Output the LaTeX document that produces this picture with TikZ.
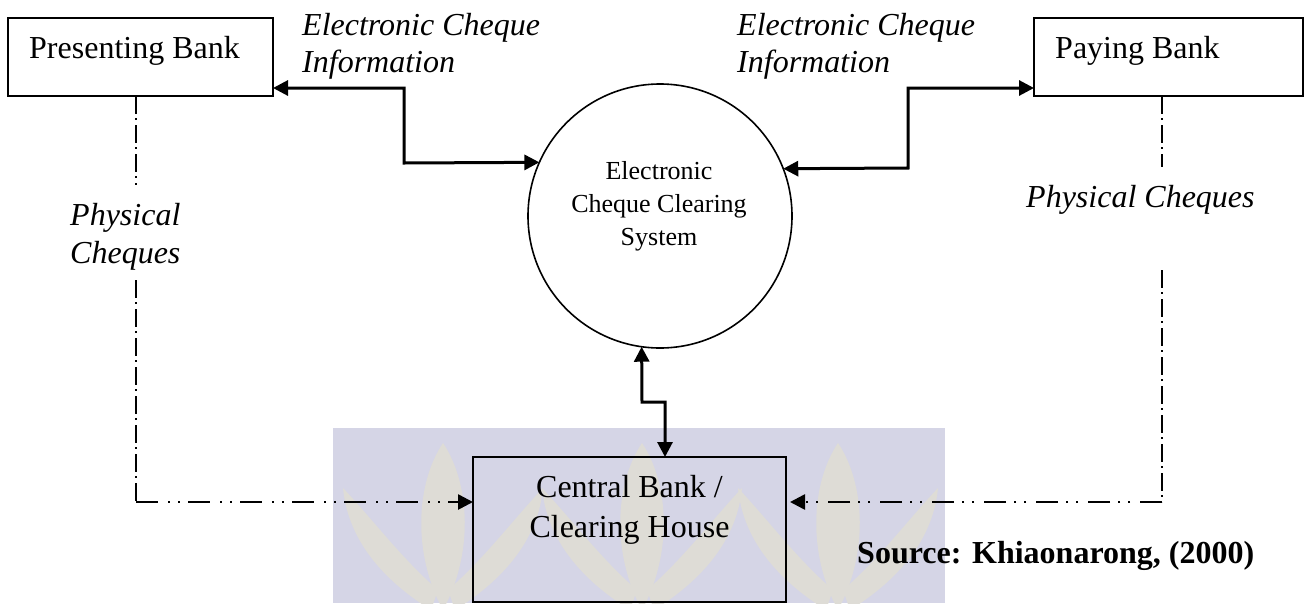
\documentclass[tikz,border=0pt]{standalone}
\usepackage{fontspec}
\setmainfont{Liberation Serif}
\usetikzlibrary{arrows.meta,calc}
\definecolor{band}{HTML}{D5D5E6}
\definecolor{leaf}{HTML}{DEDCD6}
\begin{document}
\begin{tikzpicture}[x=1pt,y=-1pt,
  box/.style={draw, line width=2pt, inner sep=0pt, outer sep=0pt},
  lbl/.style={font=\fontsize{32}{37}\selectfont, inner sep=0pt},
  ilbl/.style={font=\fontsize{32}{37}\selectfont\itshape, inner sep=0pt, align=left},
  tip/.tip={Triangle[length=15pt,width=15pt]},
  arr/.style={line width=3pt, tip-tip},
  dd/.style={line width=2.2pt, dash pattern=on 18pt off 4pt on 2pt off 5pt},
  ddd/.style={line width=2.6pt, dash pattern=on 22pt off 10pt on 2pt off 8pt on 2pt off 8pt, -tip},
]
\useasboundingbox (0,0) rectangle (1306,603);
\clip (0,0) rectangle (1306,603);
% watermark
\fill[band] (333,428) rectangle (945,603);
\begin{scope}
\clip (333,428) rectangle (945,603);
\foreach \cx in {443,642,838} {
  \fill[leaf] (\cx,443) .. controls (\cx+28,485) and (\cx+30,555) .. (\cx,610) .. controls (\cx-30,555) and (\cx-28,485) .. (\cx,443);
  \fill[leaf] (\cx-12,610) .. controls (\cx-60,580) and (\cx-95,540) .. (\cx-100,488) .. controls (\cx-70,520) and (\cx-40,560) .. (\cx-5,590) -- cycle;
  \fill[leaf] (\cx+12,610) .. controls (\cx+60,580) and (\cx+95,540) .. (\cx+100,488) .. controls (\cx+70,520) and (\cx+40,560) .. (\cx+5,590) -- cycle;
}
\end{scope}
% boxes
\node[box, minimum width=265pt, minimum height=78pt, anchor=north west] (pres) at (8,18) {};
\node[lbl, anchor=base west] (presT) at (29,58) {Presenting Bank};
\node[box, minimum width=269pt, minimum height=78pt, anchor=north west] (pay) at (1034,18) {};
\node[lbl, anchor=base west] (payT) at (1055,58) {Paying Bank};
\node[draw, circle, line width=1.6pt, minimum size=264pt, inner sep=0pt, outer sep=0pt] (circ) at (660,216) {};
\node[inner sep=0pt, align=center, font=\fontsize{26}{33}\selectfont] (circT) at (659,206) {Electronic\\Cheque Clearing\\System};
\node[box, minimum width=313pt, minimum height=145pt, anchor=north west] (cen) at (473,457) {};
\node[inner sep=0pt, align=center, font=\fontsize{32}{40}\selectfont] (cenT) at (629.5,509.5) {Central Bank /\\Clearing House};
% labels
\node[ilbl, anchor=north west] (eci1) at (302,13.1) {Electronic Cheque\\Information};
\node[ilbl, anchor=north west] (eci2) at (737,13.1) {Electronic Cheque\\Information};
\node[ilbl, anchor=north west, font=\fontsize{32}{38}\selectfont\itshape] (pc1) at (70,203.1) {Physical\\Cheques};
\node[ilbl, anchor=base west] (pc2) at (1026,207) {Physical Cheques};
\node[inner sep=0pt, anchor=base west, font=\fontsize{32}{37}\selectfont\bfseries] (src) at (857,563) {Source: Khiaonarong, (2000)};
% solid connectors
\draw[arr] ($(pres.south east)+(0,-8)$) -- (404,88) -- (404,163) -- (circ.156.33);
\draw[arr] (circ.21.3) -- (908,168) -- (908,88) -- ($(pay.south west)+(0,-8)$);
\draw[arr] (circ.262.16) -- (642,402) -- (665,402) -- ($(cen.north)+(35.5,0)$);
% dashed connectors
\draw[dd] ($(pres.south)+(-4.5,0)$) -- (136,185);
\draw[dd] (136,280) -- (136,502);
\draw[ddd] (136,502) -- (cen.west |- 0,502);
\draw[dd] ($(pay.south)+(-6.5,0)$) -- (1162,167);
\draw[dd] (1162,270) -- (1162,502);
\draw[ddd] (1162,502) -- ($(cen.east |- 0,502)+(4,0)$);
\end{tikzpicture}
\end{document}
